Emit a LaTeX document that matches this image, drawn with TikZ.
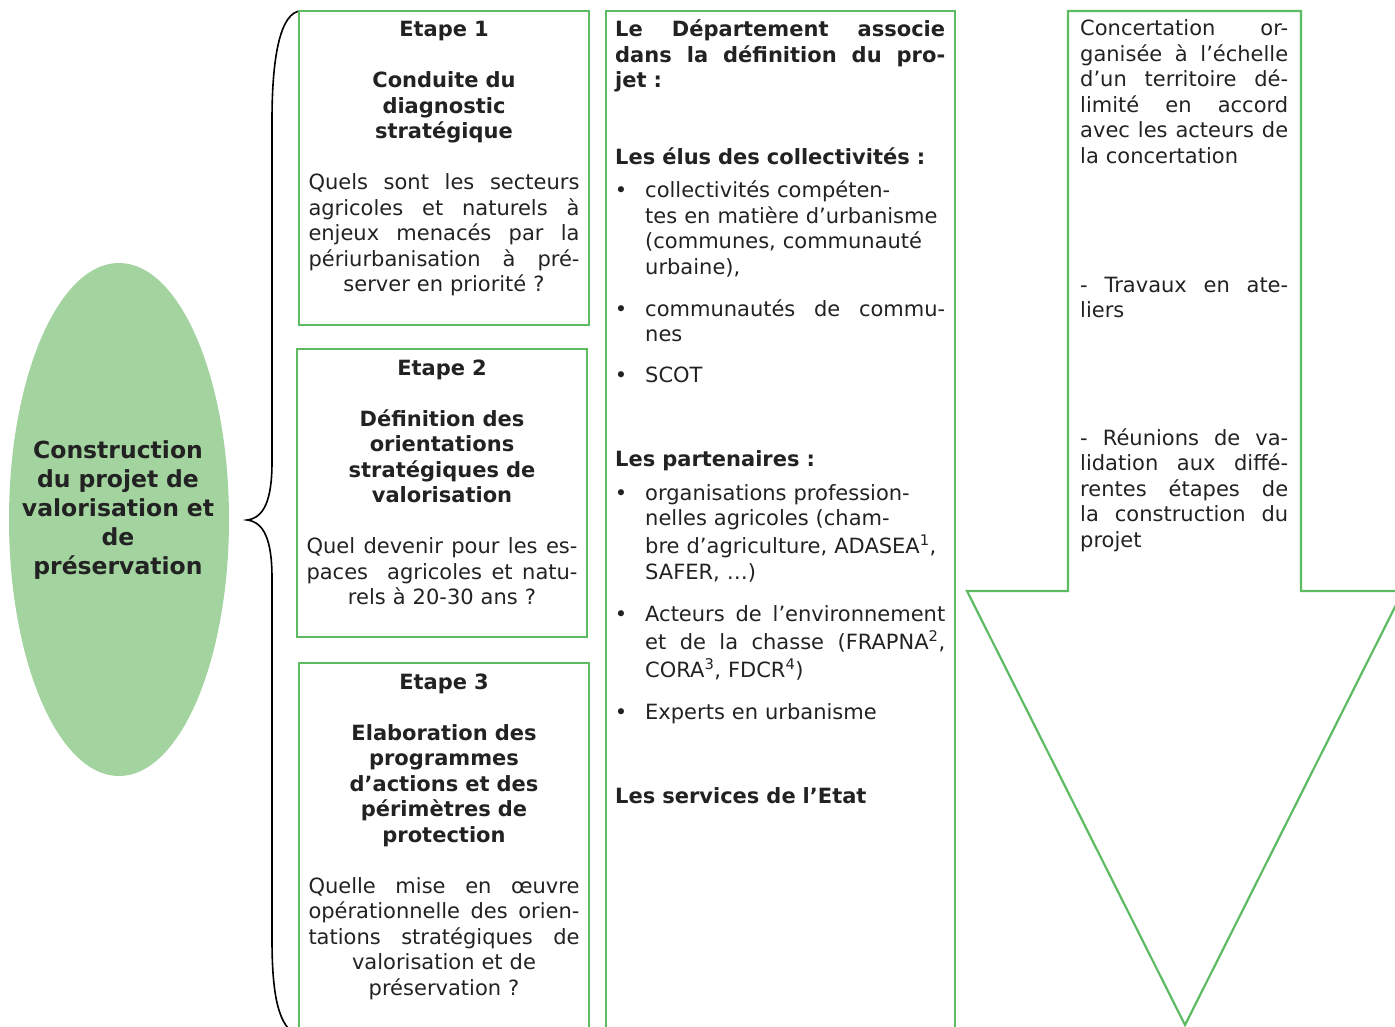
\documentclass[tikz,border=0pt]{standalone}
\usepackage{fontspec}
\setmainfont{DejaVu Sans}
\usetikzlibrary{shapes.geometric}
\definecolor{gborder}{HTML}{5DBB63}
\definecolor{gfill}{HTML}{A3D39F}
\definecolor{txt}{HTML}{222222}
\newcommand\jl[1]{\makebox[\linewidth][s]{\spaceskip=\fontdimen2\font plus 1fil\relax #1}}
\tikzset{
  tx/.style={font=\fontsize{21}{25.5}\selectfont, text=txt, inner sep=0pt},
  bigtx/.style={font=\fontsize{23.5}{29}\selectfont\bfseries, text=txt, inner sep=0pt},
  gline/.style={draw=gborder, line width=2.2pt},
  bul/.style={tx, anchor=base},
  item/.style={tx, anchor=base west, text width=300pt, align=left},
}
\begin{document}
\begin{tikzpicture}[x=1pt,y=-1pt]
\useasboundingbox (0,0) rectangle (1395,1027);
% ellipse
\node[ellipse, fill=gfill, minimum width=220pt, minimum height=513pt, inner sep=0pt] (ell) at (119,519.5) {};
\node[bigtx, anchor=base, text width=215pt, align=center] (elltext) at (118,458)
  {Construction\\du projet de\\valorisation et\\de\\préservation};
% brace
\draw[line width=1.6pt, black] (300,11) .. controls (282,13) and (272,50) .. (272,120)
  -- (272,462) .. controls (272,500) and (264,518) .. (247,520)
  .. controls (264,522) and (272,540) .. (272,578)
  -- (272,940) .. controls (272,1000) and (280,1022) .. (292,1032);
% step boxes
\draw[gline] (299,11) rectangle (589,325);
\draw[gline] (297,349) rectangle (587,637);
\draw[gline] (299,663) rectangle (589,1040);
\node[tx, anchor=base, text width=271pt, align=center] (e1) at (444,37)
  {\bfseries Etape 1\\ \mbox{}\\ Conduite du\\ diagnostic\\ stratégique\\ \mbox{}\\
   \mdseries\jl{Quels sont les secteurs}\\ \jl{agricoles et naturels à}\\
   \jl{enjeux menacés par la}\\ \jl{périurbanisation à pré-}\\ server en priorité ?};
\node[tx, anchor=base, text width=271pt, align=center] (e2) at (442,375)
  {\bfseries Etape 2\\ \mbox{}\\ Définition des\\ orientations\\ stratégiques de\\ valorisation\\ \mbox{}\\
   \mdseries\jl{Quel devenir pour les es-}\\ \jl{paces \ agricoles et natu-}\\ rels à 20-30 ans ?};
\node[tx, anchor=base, text width=271pt, align=center] (e3) at (444,689)
  {\bfseries Etape 3\\ \mbox{}\\ Elaboration des\\ programmes\\ d’actions et des\\ périmètres de\\ protection\\ \mbox{}\\
   \mdseries\jl{Quelle mise en œuvre}\\ \jl{opérationnelle des orien-}\\ \jl{tations stratégiques de}\\
   valorisation et de\\ préservation ?};
% middle box
\draw[gline] (606,11) rectangle (955,1040);
\node[tx, anchor=base west, text width=330pt, align=left] (dep) at (615,37)
  {\bfseries\jl{Le Département associe}\\ \jl{dans la définition du pro-}\\ jet :};
\node[tx, anchor=base west, text width=330pt, align=left] (elus) at (615,165)
  {\bfseries Les élus des collectivités :};
\node[bul] (b1) at (621,198) {•};
\node[item] (i1) at (645,198) {collectivités compéten-\\ tes en matière d’urbanisme\\ (communes, communauté\\ urbaine),};
\node[bul] (b2) at (621,316) {•};
\node[item] (i2) at (645,316) {\jl{communautés de commu-}\\ nes};
\node[bul] (b3) at (621,382) {•};
\node[item] (i3) at (645,382) {SCOT};
\node[tx, anchor=base west, text width=330pt, align=left] (part) at (615,466)
  {\bfseries Les partenaires :};
\node[bul] (b4) at (621,500) {•};
\node[item] (i4) at (645,500) {organisations profession-\\ nelles agricoles (cham-\\[2pt] bre d’agriculture, ADASEA\textsuperscript{1},\\[1pt] SAFER, …)};
\node[bul] (b5) at (621,621) {•};
\node[item] (i5) at (645,621) {\jl{Acteurs de l’environnement}\\[3pt] \jl{et de la chasse (FRAPNA\textsuperscript{2},}\\[2pt] CORA\textsuperscript{3}, FDCR\textsuperscript{4})};
\node[bul] (b6) at (621,719) {•};
\node[item] (i6) at (645,719) {Experts en urbanisme};
\node[tx, anchor=base west, text width=330pt, align=left] (etat) at (615,803)
  {\bfseries Les services de l’Etat};
% arrow
\draw[gline, line join=miter] (1068,11) -- (1301,11) -- (1301,591) -- (1403,591) -- (1185,1025)
  -- (967,591) -- (1068,591) -- cycle;
\node[tx, anchor=base west, text width=208pt, align=left] (c1) at (1080,36)
  {\jl{Concertation or-}\\ \jl{ganisée à l’échelle}\\ \jl{d’un territoire dé-}\\ \jl{limité en accord}\\ \jl{avec les acteurs de}\\ la concertation};
\node[tx, anchor=base west, text width=208pt, align=left] (c2) at (1080,292)
  {\jl{- Travaux en ate-}\\ liers};
\node[tx, anchor=base west, text width=208pt, align=left] (c3) at (1080,445)
  {\jl{- Réunions de va-}\\ \jl{lidation aux diffé-}\\ \jl{rentes étapes de}\\ \jl{la construction du}\\ projet};
\end{tikzpicture}
\end{document}
